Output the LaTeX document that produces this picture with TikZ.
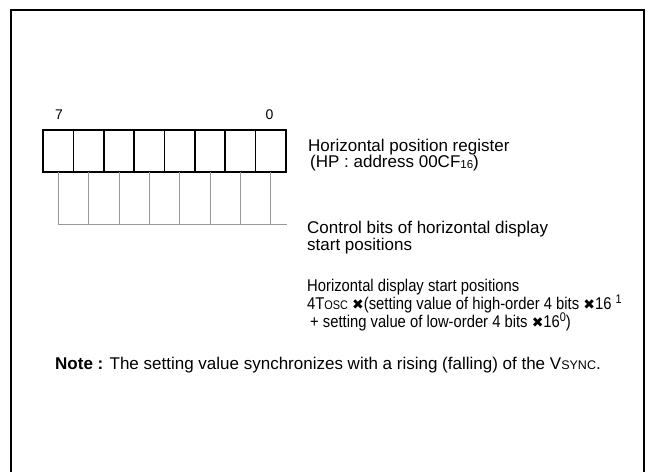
\documentclass[tikz,border=0pt]{standalone}
\usepackage{fontspec}
\setmainfont{Liberation Sans}
\newfontfamily\narrowfont[FakeStretch=0.87]{Liberation Sans}
\newfontfamily\crossfont{DejaVu Sans}
\newcommand{\bigcross}{{\crossfont\fontsize{14}{14}\selectfont ✖}}
\begin{document}
\begin{tikzpicture}[x=1pt,y=1pt,
  frame/.style={line width=2pt,black},
  bitbox/.style={draw=black,line width=1.6pt,minimum width=30.375pt,minimum height=42pt,inner sep=0pt,outer sep=0pt},
  bitline/.style={draw=black!40,line width=0.8pt},
  txt/.style={anchor=base west,inner sep=0pt,text=black,font=\fontsize{17}{17}\selectfont},
  ntxt/.style={anchor=base west,inner sep=0pt,text=black,font=\narrowfont\fontsize{17}{17}\selectfont},
  num/.style={anchor=base,inner sep=0pt,text=black,font=\fontsize{14}{14}\selectfont}]
\useasboundingbox (0,0) rectangle (649,472);
\draw[frame] (11,-5) -- (11,462) -- (644,462) -- (644,-5);
\foreach \i in {1,...,8} \node[bitbox] (b\i) at ({43+30.375*(\i-0.5)},321) {};
\coordinate (hl) at (287,248);
\foreach \i in {1,...,8} \draw[bitline] (b\i.south) -- (b\i.south |- hl);
\draw[bitline] (b1.south |- hl) -- (hl);
\node[num] (n7) at (59,352.7) {7};
\node[num] (n0) at (269.5,352.7) {0};
\node[txt] (t1) at (308,320) {Horizontal position register};
\node[txt] (t2) at (310,304) {(HP : address 00CF\raisebox{-1pt}{\fontsize{11.5}{11.5}\selectfont 16})};
\node[txt] (t3) at (307,238) {Control bits of horizontal display};
\node[txt] (t4) at (307,221) {start positions};
\node[ntxt] (t5) at (307,180) {Horizontal display start positions};
\node[ntxt] (t6) at (307,162) {4T{\fontsize{12.5}{12.5}\selectfont OSC} \bigcross(setting value of high-order 4 bits \bigcross16 \raisebox{6pt}{\fontsize{12.5}{12.5}\selectfont 1}};
\node[ntxt] (t7) at (310,144) {+ setting value of low-order 4 bits \bigcross16\raisebox{6pt}{\fontsize{12.5}{12.5}\selectfont 0})};
\node[txt] (t8) at (55,102) {\textbf{Note :} The setting value synchronizes with a rising (falling) of the V{\fontsize{12.5}{12.5}\selectfont SYNC}.};
\end{tikzpicture}
\end{document}
